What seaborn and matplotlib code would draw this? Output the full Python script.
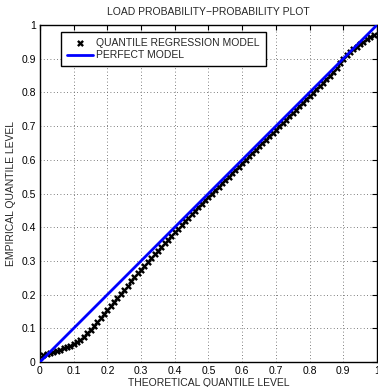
import numpy as np
import pandas as pd
import seaborn as sns
import matplotlib.pyplot as plt

# theoretical quantile levels and the empirical levels
theoretical = [0.01, 0.02, 0.03, 0.04, 0.05, 0.06, 0.07, 0.08, 0.09, 0.10,
               0.11, 0.12, 0.13, 0.14, 0.15, 0.16, 0.17, 0.18, 0.19, 0.20,
               0.21, 0.22, 0.23, 0.24, 0.25, 0.26, 0.27, 0.28, 0.29, 0.30,
               0.31, 0.32, 0.33, 0.34, 0.35, 0.36, 0.37, 0.38, 0.39, 0.40,
               0.41, 0.42, 0.43, 0.44, 0.45, 0.46, 0.47, 0.48, 0.49, 0.50,
               0.51, 0.52, 0.53, 0.54, 0.55, 0.56, 0.57, 0.58, 0.59, 0.60,
               0.61, 0.62, 0.63, 0.64, 0.65, 0.66, 0.67, 0.68, 0.69, 0.70,
               0.71, 0.72, 0.73, 0.74, 0.75, 0.76, 0.77, 0.78, 0.79, 0.80,
               0.81, 0.82, 0.83, 0.84, 0.85, 0.86, 0.87, 0.88, 0.89, 0.90,
               0.91, 0.92, 0.93, 0.94, 0.95, 0.96, 0.97, 0.98, 0.99]
empirical = [0.022, 0.025, 0.028, 0.031, 0.034, 0.037, 0.041, 0.045, 0.048, 0.053,
             0.059, 0.066, 0.075, 0.085, 0.096, 0.107, 0.119, 0.131, 0.143, 0.155,
             0.167, 0.179, 0.191, 0.203, 0.215, 0.227, 0.239, 0.251, 0.263, 0.274,
             0.285, 0.297, 0.308, 0.319, 0.330, 0.341, 0.352, 0.363, 0.374, 0.385,
             0.396, 0.407, 0.418, 0.428, 0.439, 0.449, 0.460, 0.470, 0.480, 0.490,
             0.500, 0.510, 0.520, 0.530, 0.540, 0.550, 0.560, 0.570, 0.580, 0.590,
             0.600, 0.610, 0.620, 0.630, 0.640, 0.650, 0.660, 0.670, 0.679, 0.689,
             0.699, 0.709, 0.719, 0.729, 0.739, 0.749, 0.759, 0.769, 0.779, 0.789,
             0.799, 0.809, 0.819, 0.829, 0.839, 0.850, 0.861, 0.873, 0.886, 0.900,
             0.912, 0.920, 0.928, 0.936, 0.944, 0.951, 0.958, 0.964, 0.969]
perfect_x = [0, 1]
perfect_y = [0, 1]

sns.set_theme(style='white')
plt.rcParams['font.family'] = ['Liberation Sans', 'DejaVu Sans']
plt.rcParams['axes.unicode_minus'] = True

fig = plt.figure(figsize=(3.78, 3.87), dpi=100)
ax = fig.add_axes([0.1058, 0.0646, 0.8915, 0.8708])

qq = pd.DataFrame({'theoretical': theoretical, 'empirical': empirical})
line = pd.DataFrame({'x': perfect_x, 'y': perfect_y})

sns.scatterplot(x='theoretical', y='empirical', data=qq, ax=ax, marker='x',
                s=14, linewidth=1.7, color='black', zorder=3,
                label='QUANTILE REGRESSION MODEL')
sns.lineplot(x='x', y='y', data=line, ax=ax, color='#0000ff', linewidth=2,
             zorder=4, label='PERFECT MODEL')

ax.set_xlim(0, 1)
ax.set_ylim(0, 1)
ticks = np.round(np.arange(0, 1.01, 0.1), 1)
ax.set_xticks(ticks)
ax.set_yticks(ticks)
ax.set_xticklabels(['0'] + ['%g' % t for t in ticks[1:-1]] + ['1'])
ax.set_yticklabels(['0'] + ['%g' % t for t in ticks[1:-1]] + ['1'])
ax.tick_params(direction='in', length=3.5, width=0.8, labelsize=7.5, colors='black',
               top=True, right=True, pad=3)
ax.grid(True, color='#555555', linestyle=(0, (1, 3)), linewidth=0.6)
for s in ax.spines.values():
    s.set_color('black')
    s.set_linewidth(1)

ax.set_title('LOAD PROBABILITY\u2212PROBABILITY PLOT', fontsize=7.5, pad=7)
ax.set_xlabel('THEORETICAL QUANTILE LEVEL', fontsize=7.5, labelpad=1)
ax.set_ylabel('EMPIRICAL QUANTILE LEVEL', fontsize=7.5, labelpad=4)

leg = ax.legend(loc='upper left', bbox_to_anchor=(0.062, 0.979), fontsize=7.5,
                frameon=True, fancybox=False, borderpad=0.55, handlelength=2.5,
                handletextpad=0.35, labelspacing=0.25, borderaxespad=0)
leg.get_frame().set_edgecolor('black')
leg.get_frame().set_linewidth(1)
leg.get_frame().set_alpha(1)

fig.savefig('out.png', dpi=100)
